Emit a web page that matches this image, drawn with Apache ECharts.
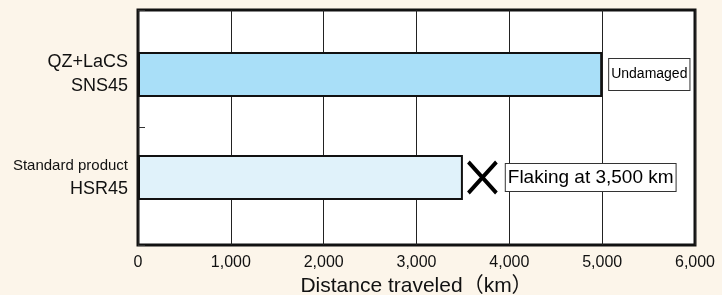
<!DOCTYPE html>
<html>
<head>
<meta charset="utf-8">
<script src="https://cdn.jsdelivr.net/npm/echarts@6/dist/echarts.min.js"></script>
<style>
  html, body { margin: 0; padding: 0; background: #fcf5ea; }
  #chart { width: 722px; height: 295px; }
</style>
</head>
<body>
<div id="chart"></div>
<script>
// product names (two lines each)
var productLine1 = ['QZ+LaCS', 'Standard product']
var productLine2 = ['SNS45', 'HSR45']
// distance traveled, km
var distances = [5000, 3500]
var barColors = ['#a9dff8', '#e0f2fa']
var barNotes = ['Undamaged', '']
// failure mark on the standard product
var flakingMark = [[3710, 1]]
var flakingNote = 'Flaking at 3,500 km'
var xTicks = [0, 1000, 2000, 3000, 4000, 5000, 6000]

var font = '"Liberation Sans", Arial, "Noto Sans CJK JP", sans-serif'
var categories = productLine1.map(function(s, i) { return s + '\n' + productLine2[i] })

var boxLabel = {
  backgroundColor: '#fff',
  borderColor: '#333',
  borderWidth: 1,
  color: '#000'
}

var chart = echarts.init(document.getElementById('chart'))
chart.setOption({
  backgroundColor: '#fcf5ea',
  animation: false,
  grid: [
    { left: 138, right: 27, top: 10, bottom: 50, outerBoundsMode: 'none', containLabel: false, show: true, backgroundColor: '#fff', borderColor: '#111', borderWidth: 3 },
    { left: 138, right: 27, top: 23, bottom: 66, outerBoundsMode: 'none', containLabel: false }
  ],
  xAxis: [
    {
      gridIndex: 0,
      type: 'value',
      min: xTicks[0],
      max: xTicks[xTicks.length - 1],
      interval: 1000,
      axisLine: { show: false },
      axisTick: { show: false },
      splitLine: { lineStyle: { color: '#222', width: 1 } },
      axisLabel: {
        margin: 10,
        fontFamily: font,
        fontSize: 16,
        color: '#111',
        formatter: function(v) { return v.toLocaleString('en-US') }
      },
      name: 'Distance traveled（km）',
      nameLocation: 'middle',
      nameGap: 31,
      nameTextStyle: { fontFamily: font, fontSize: 21, color: '#111' }
    },
    {
      gridIndex: 1,
      type: 'value',
      min: xTicks[0],
      max: xTicks[xTicks.length - 1],
      show: false
    }
  ],
  yAxis: [
    {
      // frame axis: only the small tick between the two products
      gridIndex: 0,
      type: 'value',
      min: 0,
      max: 2,
      interval: 1,
      axisLine: { show: false },
      axisLabel: { show: false },
      splitLine: { show: false },
      axisTick: { show: true, inside: true, length: 7, lineStyle: { color: '#333' } }
    },
    {
      gridIndex: 1,
      type: 'category',
      inverse: true,
      data: categories,
      axisLine: { show: false },
      axisTick: { show: false },
      axisLabel: {
        margin: 10,
        align: 'right',
        color: '#111',
        formatter: function(v, i) {
          var parts = v.split('\n')
          var top = i === 1 ? '{n|' + parts[0] + '}' : '{w|' + parts[0] + '}'
          return top + '\n{w|' + parts[1] + '}'
        },
        rich: {
          w: { fontFamily: font, fontSize: 18, lineHeight: 24, color: '#111', align: 'right' },
          n: { fontFamily: font, fontSize: 15, lineHeight: 24, color: '#111', align: 'right' }
        }
      }
    }
  ],
  series: [
    {
      type: 'bar',
      xAxisIndex: 1,
      yAxisIndex: 1,
      barWidth: 45,
      data: distances.map(function(v, i) {
        return {
          value: v,
          itemStyle: { color: barColors[i], borderColor: '#111', borderWidth: 2 },
          label: barNotes[i] ? Object.assign({
            show: true,
            position: 'right',
            distance: 7,
            formatter: barNotes[i],
            fontFamily: font,
            fontSize: 14,
            padding: [9, 2, 8, 2]
          }, boxLabel) : { show: false }
        }
      })
    },
    {
      type: 'scatter',
      xAxisIndex: 1,
      yAxisIndex: 1,
      data: flakingMark,
      symbol: 'path://M0,0L10,11M10,0L0,11',
      symbolSize: [28, 31],
      itemStyle: { color: 'none', borderColor: '#000', borderWidth: 4, opacity: 1 },
      label: Object.assign({
        show: true,
        position: 'right',
        distance: 7,
        formatter: flakingNote,
        fontFamily: font,
        fontSize: 19,
        padding: [4, 2, 4, 2]
      }, boxLabel)
    }
  ]
})
</script>
</body>
</html>
